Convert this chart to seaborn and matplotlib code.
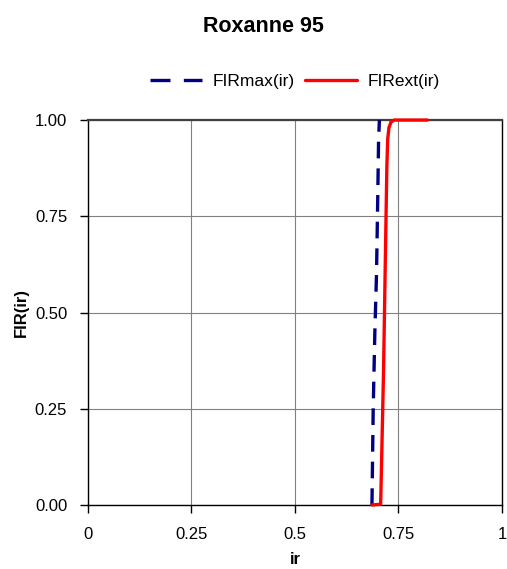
import matplotlib
matplotlib.use("Agg")
import matplotlib.pyplot as plt
import seaborn as sns
import pandas as pd

# Data
max_ir = [0.686, 0.689, 0.693, 0.697, 0.700, 0.702, 0.704]
max_fir = [0.00, 0.25, 0.45, 0.60, 0.80, 0.95, 1.00]
ext_ir = [0.686, 0.707, 0.710, 0.714, 0.717, 0.720, 0.722, 0.724, 0.727, 0.732, 0.740, 0.820]
ext_fir = [0.000, 0.002, 0.15, 0.35, 0.55, 0.75, 0.88, 0.95, 0.98, 0.995, 1.000, 1.000]
xticks = [0, 0.25, 0.5, 0.75, 1]
xticklabels = ["0", "0.25", "0.5", "0.75", "1"]
yticks = [0, 0.25, 0.5, 0.75, 1.0]
yticklabels = ["0.00", "0.25", "0.50", "0.75", "1.00"]

sns.set_style("white")
plt.rcParams['font.family'] = ['Liberation Sans', 'DejaVu Sans']
plt.rcParams['text.color'] = 'black'
plt.rcParams['axes.labelcolor'] = 'black'

fig = plt.figure(figsize=(5.07, 5.69), dpi=100)
ax = fig.add_axes([0.1736, 0.1125, 0.8164, 0.6765])

df_max = pd.DataFrame({"ir": max_ir, "fir": max_fir})
df_ext = pd.DataFrame({"ir": ext_ir, "fir": ext_fir})

sns.lineplot(data=df_max, x="ir", y="fir", sort=False, estimator=None, ax=ax,
             color="#000080", linewidth=2.4, label="FIRmax(ir)")
ax.lines[-1].set_linestyle((0, (5, 3)))
sns.lineplot(data=df_ext, x="ir", y="fir", sort=False, estimator=None, ax=ax,
             color="#ff0000", linewidth=2.4, label="FIRext(ir)")
for ln in ax.lines:
    ln.set_clip_on(False)
    ln.set_zorder(5)

ax.set_xlim(0, 1)
ax.set_ylim(0, 1)
ax.set_xticks(xticks)
ax.set_xticklabels(xticklabels)
ax.set_yticks(yticks)
ax.set_yticklabels(yticklabels)
ax.grid(True, color="#808080", linewidth=0.8)
ax.set_axisbelow(True)
for s in ax.spines.values():
    s.set_color("#000000")
    s.set_linewidth(1.0)
    s.set_zorder(4)
ax.spines['top'].set_color("#404040")
ax.spines['top'].set_linewidth(1.6)
ax.tick_params(axis='both', which='both', direction='out', length=6, width=1,
               labelsize=12, colors="#000000", bottom=True, left=True)
ax.tick_params(axis='x', pad=10)
ax.tick_params(axis='y', pad=9)
ax.set_xlabel("ir", fontsize=12, fontweight='bold', labelpad=7)
ax.set_ylabel("FIR(ir)", fontsize=12, fontweight='bold', labelpad=4)

fig.suptitle("Roxanne 95", fontsize=15.5, fontweight='bold', x=0.52, y=0.972)
handles, labels = ax.get_legend_handles_labels()
leg = ax.legend(handles, labels, loc='lower center', bbox_to_anchor=(0.50, 1.04), ncol=2,
                frameon=False, fontsize=12.5, handlelength=3.0, columnspacing=0.6,
                handletextpad=0.6)
leg.get_lines()[0].set_linestyle((0, (6, 4)))

fig.savefig("out.png", dpi=100, facecolor="white")
